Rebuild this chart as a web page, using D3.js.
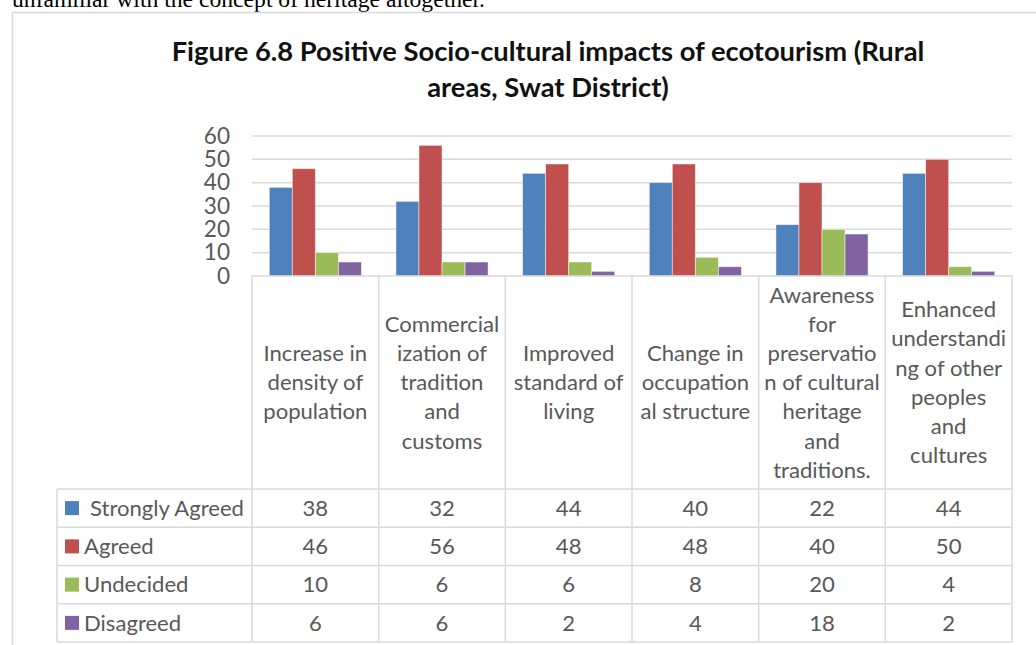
<!DOCTYPE html>
<html><head><meta charset="utf-8">
<script src="https://cdn.jsdelivr.net/npm/d3@7"></script>
<style>body{margin:0;background:#fff;overflow:hidden}</style>
</head><body>
<svg id="c" width="1036" height="645"></svg>
<script>
const categories = ["Increase in density of population","Commercialization of tradition and customs","Improved standard of living","Change in occupational structure","Awareness for preservation of cultural heritage and traditions.","Enhanced understanding of other peoples and cultures"];
const categoryLines = [
  ["Increase in","density of","population"],
  ["Commercial","ization of","tradition","and","customs"],
  ["Improved","standard of","living"],
  ["Change in","occupation","al structure"],
  ["Awareness","for","preservatio","n of cultural","heritage","and","traditions."],
  ["Enhanced","understandi","ng of other","peoples","and","cultures"]
];
const seriesNames = ["Strongly Agreed","Agreed","Undecided","Disagreed"];
const stronglyAgreed = [38,32,44,40,22,44];
const agreed = [46,56,48,48,40,50];
const undecided = [10,6,6,8,20,4];
const disagreed = [6,6,2,4,18,2];
const yTicks = [0,10,20,30,40,50,60];
const titleLines = ["Figure 6.8 Positive Socio-cultural impacts of ecotourism (Rural","areas, Swat District)"];
const aboveText = "unfamiliar with the concept of heritage altogether.";

const seriesValues = [stronglyAgreed, agreed, undecided, disagreed];
const colors = ["#4F81BD","#C0504D","#9BBB59","#8064A2"];
const grid = "#D9D9D9";
const txt = "#595959";
const FONT = "Lato, 'Open Sans', sans-serif";

const svg = d3.select("#c");

function fit(sel, w){
  const n = sel.node();
  let fs = parseFloat(sel.attr("font-size"));
  const cur = n.getComputedTextLength();
  sel.attr("font-size", (fs * w / cur).toFixed(2));
}

// text above the chart (document body)
svg.append("text").attr("x",12).attr("y",6.5).attr("font-family","'Liberation Serif','Times New Roman',serif")
  .attr("font-size",21).attr("fill","#000").text(aboveText).call(s=>fit(s,473));

// chart frame
svg.append("path").attr("d","M12.5,645 V12.5 H1036").attr("fill","none").attr("stroke",grid).attr("stroke-width",1.5);

// title
const tl = svg.append("g");
tl.append("text").attr("x",548).attr("y",61).attr("text-anchor","middle").attr("font-family",FONT)
  .attr("font-weight","bold").attr("font-size",23).attr("fill","#111").text(titleLines[0]).call(s=>fit(s,753));
const tfs = tl.select("text").attr("font-size");
tl.append("text").attr("x",548).attr("y",97).attr("text-anchor","middle").attr("font-family",FONT)
  .attr("font-weight","bold").attr("font-size",tfs).attr("fill","#111").text(titleLines[1]);

// scales
const x = d3.scaleBand().domain(categories).range([252,1012]).paddingInner(1.5/5.5).paddingOuter(0.75/5.5);
const xs = d3.scaleBand().domain(seriesNames).range([0,x.bandwidth()]);
const y = d3.scaleLinear().domain([0,60]).range([276,136]);

// measure base text size
const probe = svg.append("text").attr("font-family",FONT).attr("font-size",19).text("Strongly Agreed");
fit(probe,154);
const fs = +probe.attr("font-size");
probe.remove();

// gridlines
svg.append("g").selectAll("line").data(yTicks.filter(d=>d>0)).join("line")
  .attr("x1",252).attr("x2",1012).attr("y1",d=>y(d)).attr("y2",d=>y(d))
  .attr("stroke",grid).attr("stroke-width",1.5);

// y axis
const ya = svg.append("g").attr("transform","translate(252,0)")
  .call(d3.axisLeft(y).tickValues(yTicks).tickSize(0).tickPadding(22));
ya.select(".domain").remove();
ya.selectAll("text").attr("font-family",FONT).attr("font-size",fs+0.5).attr("fill",txt);

// bars
const groups = svg.append("g").selectAll("g").data(categories).join("g")
  .attr("transform",d=>`translate(${x(d)},0)`);
groups.selectAll("rect").data((c,i)=>seriesNames.map((s,k)=>({s,k,v:seriesValues[k][i]}))).join("rect")
  .attr("x",d=>xs(d.s)).attr("width",xs.bandwidth())
  .attr("y",d=>y(d.v)).attr("height",d=>y(0)-y(d.v))
  .attr("fill",d=>colors[d.k]).attr("stroke","#fff").attr("stroke-opacity",0.6).attr("stroke-width",0.8);

// data table
const step = x.step();
const bnd = c => x(c) - step*x.paddingInner()/2;
const bounds = categories.map(bnd).concat([1012]);
const headTop = 276, headBot = 489;
const rowH = (642-489)/4;
const tbl = svg.append("g").attr("stroke",grid).attr("stroke-width",1.5).attr("fill","none");
tbl.append("line").attr("x1",252).attr("x2",1012).attr("y1",headTop).attr("y2",headTop);
bounds.forEach(b=>tbl.append("line").attr("x1",b).attr("x2",b).attr("y1",headTop).attr("y2",642));
d3.range(5).forEach(r=>tbl.append("line").attr("x1",57).attr("x2",1012).attr("y1",headBot+r*rowH).attr("y2",headBot+r*rowH));
tbl.append("line").attr("x1",57).attr("x2",57).attr("y1",headBot).attr("y2",642);

// header labels
const lh = 29.2;
const hc = (headTop+headBot)/2;
categories.forEach((c,i)=>{
  const lines = categoryLines[i];
  const cx = x(c)+x.bandwidth()/2;
  const t = svg.append("text").attr("text-anchor","middle").attr("font-family",FONT).attr("font-size",fs).attr("fill",txt);
  lines.forEach((l,j)=>{
    t.append("tspan").attr("x",cx).attr("y",hc+(j-(lines.length-1)/2)*lh+fs*0.35).text(l);
  });
});

// rows
seriesNames.forEach((s,k)=>{
  const yc = headBot + (k+0.5)*rowH;
  svg.append("rect").attr("x",65).attr("y",yc-7).attr("width",14).attr("height",14).attr("fill",colors[k]);
  svg.append("text").attr("x",k===0?90:84).attr("y",yc+fs*0.35).attr("font-family",FONT).attr("font-size",fs)
    .attr("fill",txt).text(s);
  categories.forEach((c,i)=>{
    svg.append("text").attr("x",x(c)+x.bandwidth()/2).attr("y",yc+fs*0.35).attr("text-anchor","middle")
      .attr("font-family",FONT).attr("font-size",fs).attr("fill",txt).text(seriesValues[k][i]);
  });
});
</script>
</body></html>
